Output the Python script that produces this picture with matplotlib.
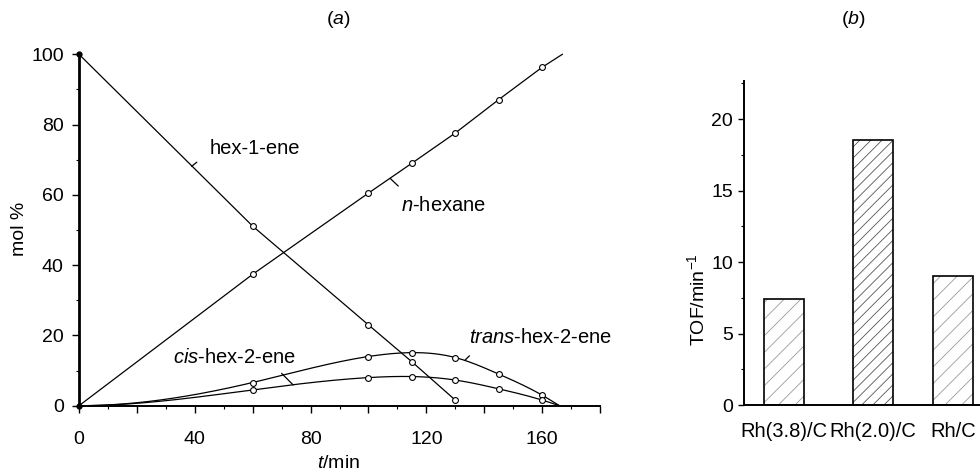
import numpy as np
import matplotlib
matplotlib.use("Agg")
import matplotlib.pyplot as plt
from matplotlib.ticker import MultipleLocator, FuncFormatter

plt.rcParams['font.family'] = ['Liberation Sans', 'DejaVu Sans']
plt.rcParams['mathtext.fontset'] = 'custom'
plt.rcParams['mathtext.rm'] = 'Liberation Sans'
plt.rcParams['mathtext.it'] = 'Liberation Sans:italic'
plt.rcParams['hatch.linewidth'] = 0.6

# ---------------- data (a) ----------------
t_hex1 = [0, 60, 100, 115, 130]
y_hex1 = [100, 51.1, 23.0, 12.5, 1.6]

t_hexane = [0, 60, 100, 115, 130, 145, 160, 167]
y_hexane = [0, 37.4, 60.5, 69.0, 77.6, 87.1, 96.3, 100]

t_trans = [0, 60, 100, 115, 130, 145, 160, 166]
y_trans = [0, 6.6, 14.0, 15.1, 13.7, 9.0, 3.0, 0]

t_cis = [0, 60, 100, 115, 130, 145, 160, 166]
y_cis = [0, 4.5, 8.0, 8.3, 7.3, 4.8, 1.6, 0]

# ---------------- data (b) ----------------
catalysts = ['Rh(3.8)/C', 'Rh(2.0)/C', 'Rh/C']
tof = [7.4, 18.5, 9.0]


def spline(x, y, xs, d0=0.0):
    """Cubic spline, clamped slope d0 at start, natural at end."""
    x = np.asarray(x, float); y = np.asarray(y, float)
    n = len(x); h = np.diff(x)
    A = np.zeros((n, n)); b = np.zeros(n)
    A[0, 0] = 2 * h[0]; A[0, 1] = h[0]
    b[0] = 6 * ((y[1] - y[0]) / h[0] - d0)
    for i in range(1, n - 1):
        A[i, i - 1] = h[i - 1]; A[i, i] = 2 * (h[i - 1] + h[i]); A[i, i + 1] = h[i]
        b[i] = 6 * ((y[i + 1] - y[i]) / h[i] - (y[i] - y[i - 1]) / h[i - 1])
    A[n - 1, n - 1] = 1.0
    M = np.linalg.solve(A, b)
    xs = np.asarray(xs, float)
    idx = np.clip(np.searchsorted(x, xs) - 1, 0, n - 2)
    x0 = x[idx]; x1 = x[idx + 1]; hh = x1 - x0
    return (M[idx] * (x1 - xs) ** 3 / (6 * hh) + M[idx + 1] * (xs - x0) ** 3 / (6 * hh)
            + (y[idx] / hh - M[idx] * hh / 6) * (x1 - xs)
            + (y[idx + 1] / hh - M[idx + 1] * hh / 6) * (xs - x0))


fig = plt.figure(figsize=(9.8, 4.73), dpi=100)
W, H = 980, 473
ax = fig.add_axes([79 / W, (H - 405.7) / H, 521 / W, 351.4 / H])
lw = 0.9
mk = dict(marker='o', ms=4.2, mfc='white', mec='black', mew=0.8, ls='none', zorder=4, clip_on=False)

# hex-1-ene
ax.plot(t_hex1, y_hex1, color='black', lw=lw, clip_on=False)
ax.plot(t_hex1[1:], y_hex1[1:], **mk)
# n-hexane
ax.plot(t_hexane, y_hexane, color='black', lw=lw, clip_on=False)
ax.plot(t_hexane[1:-1], y_hexane[1:-1], **mk)
# trans / cis smooth curves
ts = np.linspace(t_trans[0], t_trans[-1], 400)
ax.plot(ts, spline(t_trans, y_trans, ts), color='black', lw=lw, clip_on=False)
ax.plot(t_trans[1:-1], y_trans[1:-1], **mk)
tc = np.linspace(t_cis[0], t_cis[-1], 400)
ax.plot(tc, spline(t_cis, y_cis, tc), color='black', lw=lw, clip_on=False)
ax.plot(t_cis[1:-1], y_cis[1:-1], **mk)
# start points
ax.plot([t_hex1[0], t_hexane[0]], [y_hex1[0], y_hexane[0]], 'o', color='black', ms=3.5,
        clip_on=False, zorder=5)

ax.set_xlim(0, 180)
ax.set_ylim(0, 100)
for s in ['top', 'right']:
    ax.spines[s].set_visible(False)
ax.spines['left'].set_linewidth(2.0)
ax.spines['bottom'].set_linewidth(1.4)
ax.xaxis.set_major_locator(MultipleLocator(20))
ax.xaxis.set_minor_locator(MultipleLocator(10))
ax.xaxis.set_major_formatter(FuncFormatter(lambda v, p: f"{int(v)}" if int(round(v)) % 40 == 0 else ""))
ax.yaxis.set_major_locator(MultipleLocator(20))
ax.yaxis.set_minor_locator(MultipleLocator(10))
ax.tick_params(axis='x', which='major', length=5, width=1.0, pad=13, labelsize=14)
ax.tick_params(axis='y', which='major', length=5, width=1.0, pad=6, labelsize=14)
ax.tick_params(which='minor', length=2.5, width=0.8)

lab = dict(fontsize=14.5, ha='center', va='center')
ax.text(60.8, 73.3, 'hex-1-ene', **lab)
ax.text(125.8, 57.1, '$n$-hexane', **lab)
ax.text(159.6, 19.3, '$trans$-hex-2-ene', **lab)
ax.text(53.6, 13.6, '$cis$-hex-2-ene', **lab)
lead = dict(arrowprops=dict(arrowstyle='-', lw=0.9, shrinkA=0, shrinkB=0))
ax.annotate('', xy=(38.9, 68.1), xytext=(40.7, 69.3), **lead)
ax.annotate('', xy=(107.5, 64.7), xytext=(110.3, 62.5), **lead)
ax.annotate('', xy=(133.4, 13.0), xytext=(134.9, 14.2), **lead)
ax.annotate('', xy=(70.0, 9.2), xytext=(74.0, 5.9), **lead)

fig.text(339 / W, 1 - 463 / H, '$t$/min', fontsize=14, ha='center', va='center')
fig.text(19 / W, 1 - 229 / H, 'mol %', fontsize=14, ha='center', va='center', rotation=90)
fig.text(338 / W, 1 - 19 / H, '($a$)', fontsize=14, ha='center', va='center')

# ---------------- panel (b) ----------------
bx = fig.add_axes([743.5 / W, (H - 405) / H, (W - 743.5) / W, 324 / H])
pos = [1.0, 3.24, 5.23]
hatches = ['//', '///', '//']
hcolors = ['#9a9a9a', '#555555', '#9a9a9a']
for p, v, h, c in zip(pos, tof, hatches, hcolors):
    bx.bar(p, v, width=1.0, color='white', edgecolor=c, hatch=h, linewidth=0, zorder=2)
bx.bar(pos, tof, width=1.0, fill=False, edgecolor='black', linewidth=1.2, zorder=3)
bx.set_xlim(0, 5.91)
bx.set_ylim(0, 22.66)
bx.set_xticks(pos)
bx.set_xticklabels(catalysts)
for s in ['top', 'right']:
    bx.spines[s].set_visible(False)
bx.spines['left'].set_linewidth(1.4)
bx.spines['bottom'].set_linewidth(1.4)
bx.yaxis.set_major_locator(MultipleLocator(5))
bx.yaxis.set_minor_locator(MultipleLocator(2.5))
bx.tick_params(axis='x', length=0, pad=12, labelsize=14.5)
bx.tick_params(axis='y', which='major', length=4.5, width=1.0, pad=3, labelsize=14)
bx.tick_params(axis='y', which='minor', length=2.5, width=0.8)
fig.text(697 / W, 1 - 300 / H, 'TOF/min$^{-1}$', fontsize=14, ha='center', va='center', rotation=90)
fig.text(853 / W, 1 - 19 / H, '($b$)', fontsize=14, ha='center', va='center')

fig.savefig('out.png', dpi=100)
